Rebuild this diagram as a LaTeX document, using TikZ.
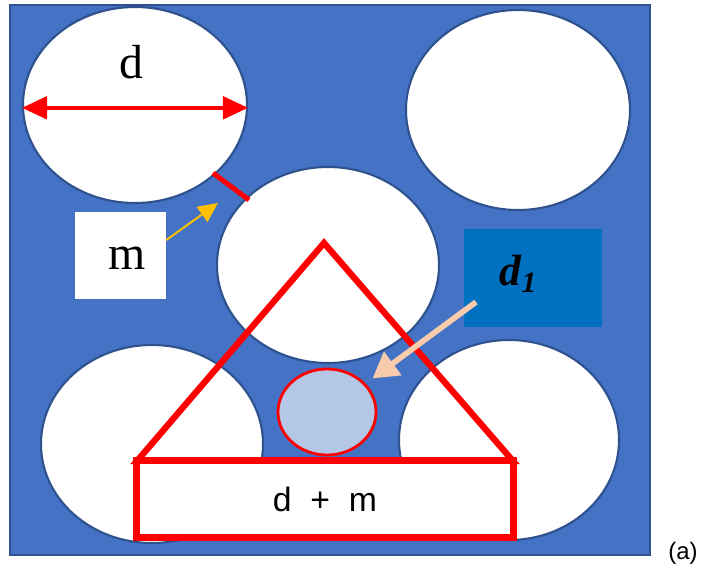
\documentclass[tikz,border=0pt]{standalone}
\usepackage{fontspec}
\setmainfont{Liberation Serif}
\newfontfamily\arialfont{Liberation Sans}
\usetikzlibrary{arrows.meta,shapes.geometric}
\definecolor{plate}{HTML}{4472C4}
\definecolor{plateedge}{HTML}{2F528F}
\definecolor{boxblue}{HTML}{0070C0}
\definecolor{poreblue}{HTML}{B4C7E7}
\definecolor{amber}{HTML}{FFC000}
\definecolor{peach}{HTML}{F8CBAD}
\tikzset{
  hole/.style={ellipse, draw=plateedge, fill=white, line width=1.5pt, inner sep=0pt},
  redline/.style={draw=red, line width=4.5pt, line join=miter},
  bigserif/.style={font=\fontsize{34}{36}\selectfont},
}
\begin{document}
\begin{tikzpicture}[x=0.025cm, y=-0.025cm]
  \useasboundingbox (0,0) rectangle (703,573);
  \fill[plate, draw=plateedge, line width=1.5pt] (10,5) rectangle (650,555);
  \node[hole, minimum width=5.6cm,  minimum height=4.9cm]  (holeTL)  at (135,105) {};
  \node[hole, minimum width=5.6cm,  minimum height=5.0cm]  (holeTR)  at (518,110) {};
  \node[hole, minimum width=5.55cm, minimum height=4.9cm]  (holeMid) at (328,265) {};
  \node[hole, minimum width=5.55cm, minimum height=4.95cm] (holeBL)  at (152,444) {};
  \node[hole, minimum width=5.5cm,  minimum height=5.0cm]  (holeBR)  at (509,440) {};
  \node[ellipse, draw=red, fill=poreblue, line width=2pt, inner sep=0pt, minimum width=2.45cm, minimum height=2.15cm] (pore) at (327,412) {};
  \draw[redline] (137,461) -- (324,243) -- (513,461) -- cycle;
  \node[draw=red, line width=5pt, fill=white, minimum width=9.4cm, minimum height=1.925cm,
        font=\arialfont\fontsize{24}{26}\selectfont] (span) at (325,499) {d\ \ +\ \ m};
  \node[bigserif] (dlabel) at (131,62) {d};
  \draw[{Triangle[length=18pt,width=16pt]}-{Triangle[length=18pt,width=16pt]}, red, line width=3pt] ([yshift=-2pt]holeTL.west) -- ([yshift=-2pt]holeTL.east);
  \draw[red, line width=3.5pt] (213,173) -- (249,200);
  \node[fill=white, minimum width=2.275cm, minimum height=2.175cm] (mbox) at (120.5,255.5) {};
  \node[bigserif] (mlabel) at (127,258) {m};
  \coordinate (gapmark) at (218,203);
  \draw[-{Triangle[length=14pt,width=13pt]}, amber, line width=1.4pt] ([yshift=11pt]mbox.east) -- (gapmark);
  \node[fill=boxblue, minimum width=3.45cm, minimum height=2.45cm] (dbox) at (533,278) {};
  \node[font=\bfseries\itshape\fontsize{31}{34}\selectfont] (dname) at (518,274) {d\raisebox{-5pt}{\fontsize{21}{22}\selectfont 1}};
  \coordinate (dtail) at (476,302);
  \draw[-{Triangle[length=18pt,width=20pt]}, peach, line width=4pt, shorten >=6pt] (dtail) -- (pore);
  \node[font=\arialfont\fontsize{17}{20}\selectfont] (tag) at (683,553) {(a)};
\end{tikzpicture}
\end{document}
